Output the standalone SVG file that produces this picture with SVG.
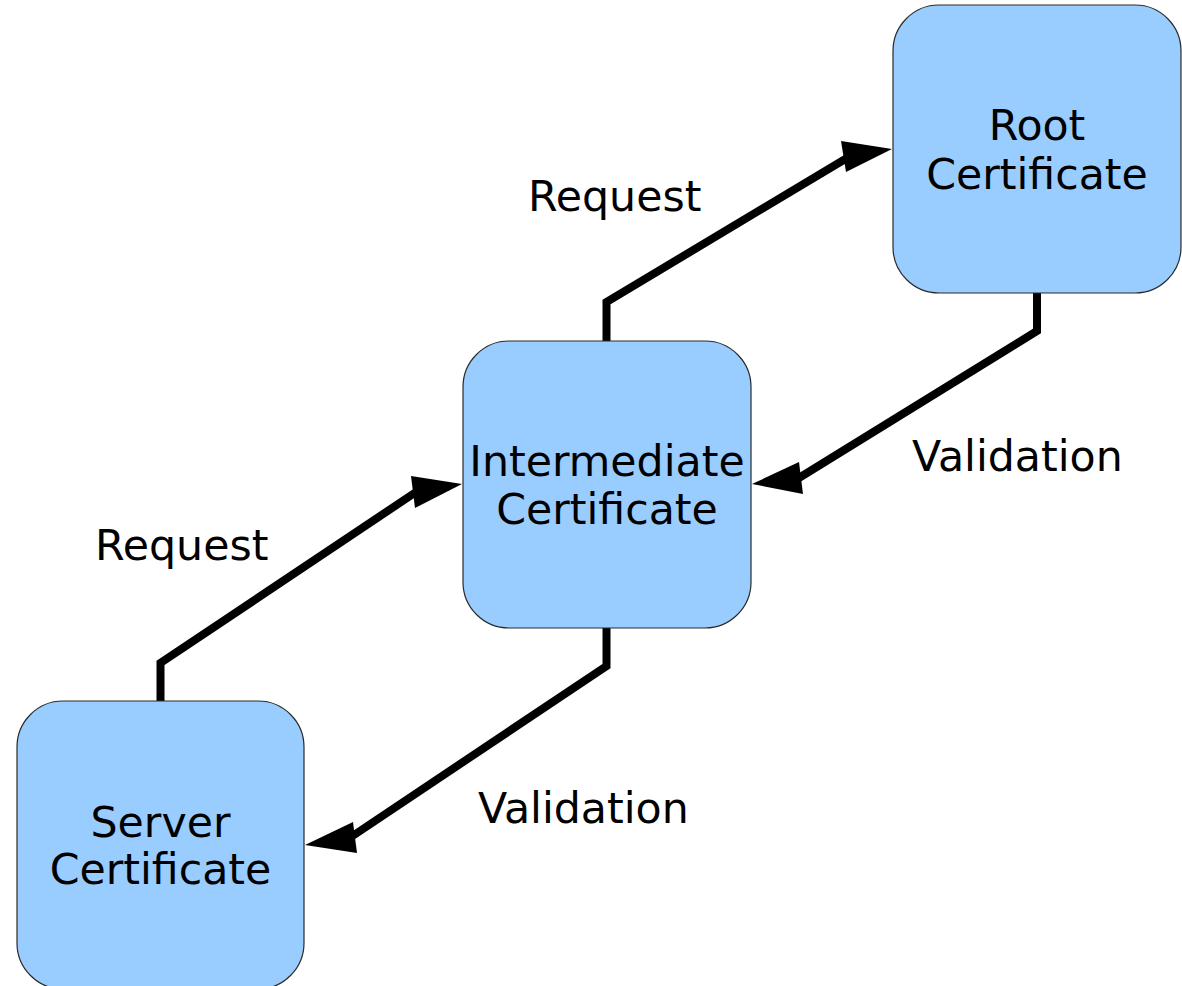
<svg xmlns="http://www.w3.org/2000/svg" width="1182" height="986" viewBox="0 0 1182 986">
<style>
.box{fill:#99ccff;stroke:#2a2a2a;stroke-width:1.2}
.t{font-family:"DejaVu Sans",sans-serif;font-size:42.7px;fill:#000;text-anchor:middle}
.l{font-family:"DejaVu Sans",sans-serif;font-size:42.7px;fill:#000}
.c{fill:none;stroke:#000;stroke-width:8;stroke-linejoin:miter}
.h{fill:#000}
</style>
<rect width="1182" height="986" fill="#fff"/>
<g id="connectors">
<path class="c" d="M606.5,341 V302 L852,155"/>
<polygon class="h" points="892,149 841,141 846,172"/>
<path class="c" d="M1037,293 V331 L794,481"/>
<polygon class="h" points="752,484 799,462 803,494"/>
<path class="c" d="M160.5,701 V663 L419,490"/>
<polygon class="h" points="462,484 411,476 415,508"/>
<path class="c" d="M606.5,628 V666 L348,839"/>
<polygon class="h" points="305,845 353,822 357,853"/>
</g>
<g id="labels">
<text class="l" x="528" y="211">Request</text>
<text class="l" x="95" y="560">Request</text>
<text class="l" x="912" y="471">Validation</text>
<text class="l" x="478" y="823">Validation</text>
</g>
<g id="root">
<rect class="box" x="893" y="5" width="288" height="288" rx="46"/>
<text class="t" x="1037" y="140">Root</text>
<text class="t" x="1037" y="189">Certificate</text>
</g>
<g id="intermediate">
<rect class="box" x="463" y="341" width="288" height="287" rx="46"/>
<text class="t" x="607" y="476">Intermediate</text>
<text class="t" x="607" y="524">Certificate</text>
</g>
<g id="server">
<rect class="box" x="17" y="701" width="287" height="288" rx="46"/>
<text class="t" x="160.5" y="837">Server</text>
<text class="t" x="160.5" y="884">Certificate</text>
</g>
</svg>
